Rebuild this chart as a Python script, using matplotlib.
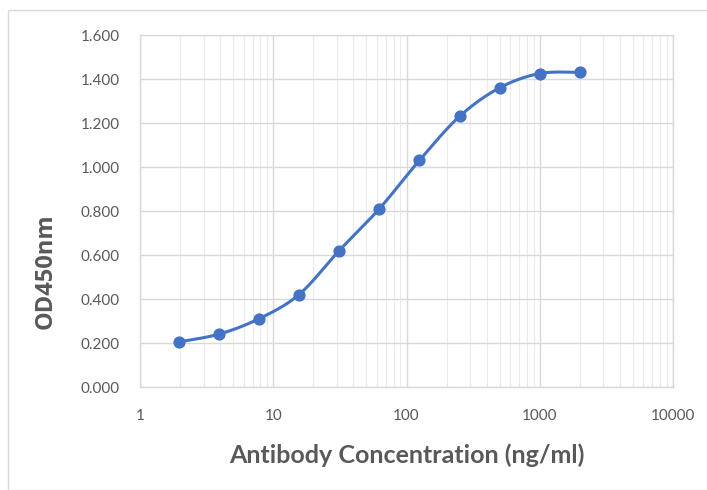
import numpy as np
import matplotlib
matplotlib.use("Agg")
import matplotlib.pyplot as plt
from matplotlib.ticker import FixedLocator, FuncFormatter, NullFormatter
from matplotlib.patches import Rectangle

conc = [1.95, 3.9, 7.8, 15.6, 31.25, 62.5, 125, 250, 500, 1000, 2000]
od450 = [0.205, 0.240, 0.310, 0.420, 0.620, 0.810, 1.030, 1.230, 1.360, 1.425, 1.430]

x_ticks = [1, 10, 100, 1000, 10000]
y_ticks = [0.0, 0.2, 0.4, 0.6, 0.8, 1.0, 1.2, 1.4, 1.6]

line_color = "#4472C4"
text_color = "#595959"


def excel_smooth(xs, ys, n=30):
    # Excel style smoothed line: Catmull-Rom bezier, done in log-x space
    px = np.log10(np.asarray(xs, dtype=float))
    py = np.asarray(ys, dtype=float)
    out_x, out_y = [], []
    k = len(px)
    for i in range(k - 1):
        p0 = (px[max(i - 1, 0)], py[max(i - 1, 0)])
        p1 = (px[i], py[i])
        p2 = (px[i + 1], py[i + 1])
        p3 = (px[min(i + 2, k - 1)], py[min(i + 2, k - 1)])
        c1 = (p1[0] + (p2[0] - p0[0]) / 6, p1[1] + (p2[1] - p0[1]) / 6)
        c2 = (p2[0] - (p3[0] - p1[0]) / 6, p2[1] - (p3[1] - p1[1]) / 6)
        t = np.linspace(0, 1, n)
        bx = (1 - t) ** 3 * p1[0] + 3 * (1 - t) ** 2 * t * c1[0] + 3 * (1 - t) * t ** 2 * c2[0] + t ** 3 * p2[0]
        by = (1 - t) ** 3 * p1[1] + 3 * (1 - t) ** 2 * t * c1[1] + 3 * (1 - t) * t ** 2 * c2[1] + t ** 3 * p2[1]
        out_x.extend(bx)
        out_y.extend(by)
    return 10 ** np.array(out_x), np.array(out_y)


plt.rcParams['font.family'] = ['Lato', 'DejaVu Sans']

fig = plt.figure(figsize=(7.07, 4.90), dpi=100)
fig.patches.append(Rectangle((8 / 707, 0), 1.0, 1 - 10 / 490, transform=fig.transFigure,
                             fill=False, edgecolor="#D9D9D9", linewidth=1.0))
ax = fig.add_axes([140 / 707, 1 - 387 / 490, (673 - 140) / 707, (387 - 35) / 490])

ax.set_xscale('log')
ax.set_xlim(1, 10000)
ax.set_ylim(0, 1.6)

sx, sy = excel_smooth(conc, od450)
ax.plot(sx, sy, color=line_color, linewidth=2.2, zorder=3)
ax.plot(conc, od450, 'o', color=line_color, markersize=7.8, zorder=4)

ax.xaxis.set_major_locator(FixedLocator(x_ticks))
ax.xaxis.set_major_formatter(FuncFormatter(lambda v, p: "%d" % v))
minors = [m * 10 ** e for e in range(4) for m in range(2, 10)]
ax.xaxis.set_minor_locator(FixedLocator(minors))
ax.xaxis.set_minor_formatter(NullFormatter())
ax.yaxis.set_major_locator(FixedLocator(y_ticks))
ax.yaxis.set_major_formatter(FuncFormatter(lambda v, p: "%.3f" % v))

ax.grid(which='major', color="#D9D9D9", linewidth=1.0)
ax.grid(which='minor', axis='x', color="#EBEBEB", linewidth=0.8)
ax.set_axisbelow(True)
for s in ax.spines.values():
    s.set_color("#D9D9D9")
    s.set_linewidth(1.0)

ax.tick_params(which='both', length=0, colors=text_color, labelsize=11)
ax.tick_params(axis='x', pad=15.5)
ax.tick_params(axis='y', pad=14.4)

ax.set_xlabel("Antibody Concentration (ng/ml)", fontsize=18, fontweight='bold',
              color=text_color, va='baseline')
ax.xaxis.set_label_coords(0.5, (387 - 463) / 352)
ax.set_ylabel("OD450nm", fontsize=17, fontweight='bold', color=text_color,
              family=['Open Sans', 'DejaVu Sans'], va='center')
ax.yaxis.set_label_coords((46 - 140) / 533, (387 - 271) / 352)

fig.savefig("out.png", dpi=100)
